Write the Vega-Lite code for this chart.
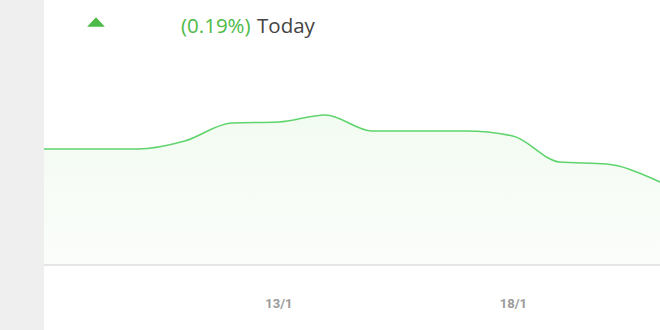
{
  "$schema": "https://vega.github.io/schema/vega-lite/v6.json",
  "width": 616,
  "height": 330,
  "autosize": {"type": "none"},
  "padding": {"left": 44, "top": 0, "right": 0, "bottom": 0},
  "background": "#efefef",
  "view": {"fill": "#ffffff", "stroke": null},
  "datasets": {
    "series": [
      {"date": "2024-01-08T00:00:00Z", "value": 116},
      {"date": "2024-01-09T00:00:00Z", "value": 116},
      {"date": "2024-01-10T00:00:00Z", "value": 116},
      {"date": "2024-01-11T00:00:00Z", "value": 124},
      {"date": "2024-01-12T00:00:00Z", "value": 142},
      {"date": "2024-01-13T00:00:00Z", "value": 143},
      {"date": "2024-01-14T00:00:00Z", "value": 150},
      {"date": "2024-01-15T00:00:00Z", "value": 134},
      {"date": "2024-01-16T00:00:00Z", "value": 134},
      {"date": "2024-01-17T00:00:00Z", "value": 134},
      {"date": "2024-01-18T00:00:00Z", "value": 129},
      {"date": "2024-01-19T00:00:00Z", "value": 103},
      {"date": "2024-01-20T00:00:00Z", "value": 101},
      {"date": "2024-01-21T00:00:00Z", "value": 86},
      {"date": "2024-01-21T03:20:00Z", "value": 83}
    ],
    "header": [
      {"date": "2024-01-10T22:08:00Z", "value": 232, "label": "(0.19%)", "kind": "pct"},
      {"date": "2024-01-12T13:03:00Z", "value": 232, "label": "Today", "kind": "day"}
    ],
    "marker": [
      {"date": "2024-01-09T02:37:00Z", "value": 243}
    ]
  },
  "encoding": {
    "x": {
      "field": "date",
      "type": "temporal",
      "scale": {"type": "utc", "domain": ["2024-01-08T00:00:00Z", "2024-01-21T03:20:00Z"]},
      "axis": {
        "title": null,
        "domain": false,
        "ticks": false,
        "grid": false,
        "values": ["2024-01-13T00:00:00Z", "2024-01-18T00:00:00Z"],
        "labelExpr": "utcFormat(datum.value, '%-d/%-m')",
        "labelFont": "Roboto",
        "labelFontSize": 13,
        "labelFontWeight": "bold",
        "labelColor": "#9a9a9a",
        "labelBaseline": "alphabetic",
        "labelPadding": -23
      }
    },
    "y": {
      "field": "value",
      "type": "quantitative",
      "scale": {"domain": [-65, 265], "nice": false, "zero": false},
      "axis": null
    }
  },
  "layer": [
    {
      "data": {"name": "series"},
      "mark": {
        "type": "area",
        "interpolate": "monotone",
        "color": {
          "gradient": "linear",
          "x1": 0, "y1": 0, "x2": 0, "y2": 1,
          "stops": [
            {"offset": 0, "color": "#f2fbf1"},
            {"offset": 1, "color": "#fbfdfb"}
          ]
        }
      },
      "encoding": {"y2": {"datum": 0}}
    },
    {
      "data": {"name": "series"},
      "mark": {"type": "line", "interpolate": "monotone", "color": "#5fd46d", "strokeWidth": 1.6}
    },
    {
      "data": {"name": "series"},
      "mark": {"type": "rule", "color": "#e4e4e4", "strokeWidth": 1.5},
      "encoding": {"x": null, "y": {"datum": 0}}
    },
    {
      "data": {"name": "marker"},
      "mark": {
        "type": "point",
        "shape": "M-1,0.525L1,0.525L0,-0.525Z",
        "size": 313,
        "filled": true,
        "color": "#4cba47",
        "opacity": 1
      }
    },
    {
      "data": {"name": "header"},
      "mark": {
        "type": "text",
        "align": "left",
        "baseline": "alphabetic",
        "font": "Open Sans",
        "fontSize": 20.5,
        "fontWeight": 500
      },
      "encoding": {
        "text": {"field": "label"},
        "color": {
          "field": "kind",
          "type": "nominal",
          "scale": {"domain": ["pct", "day"], "range": ["#4cba47", "#444444"]},
          "legend": null
        }
      }
    }
  ]
}
